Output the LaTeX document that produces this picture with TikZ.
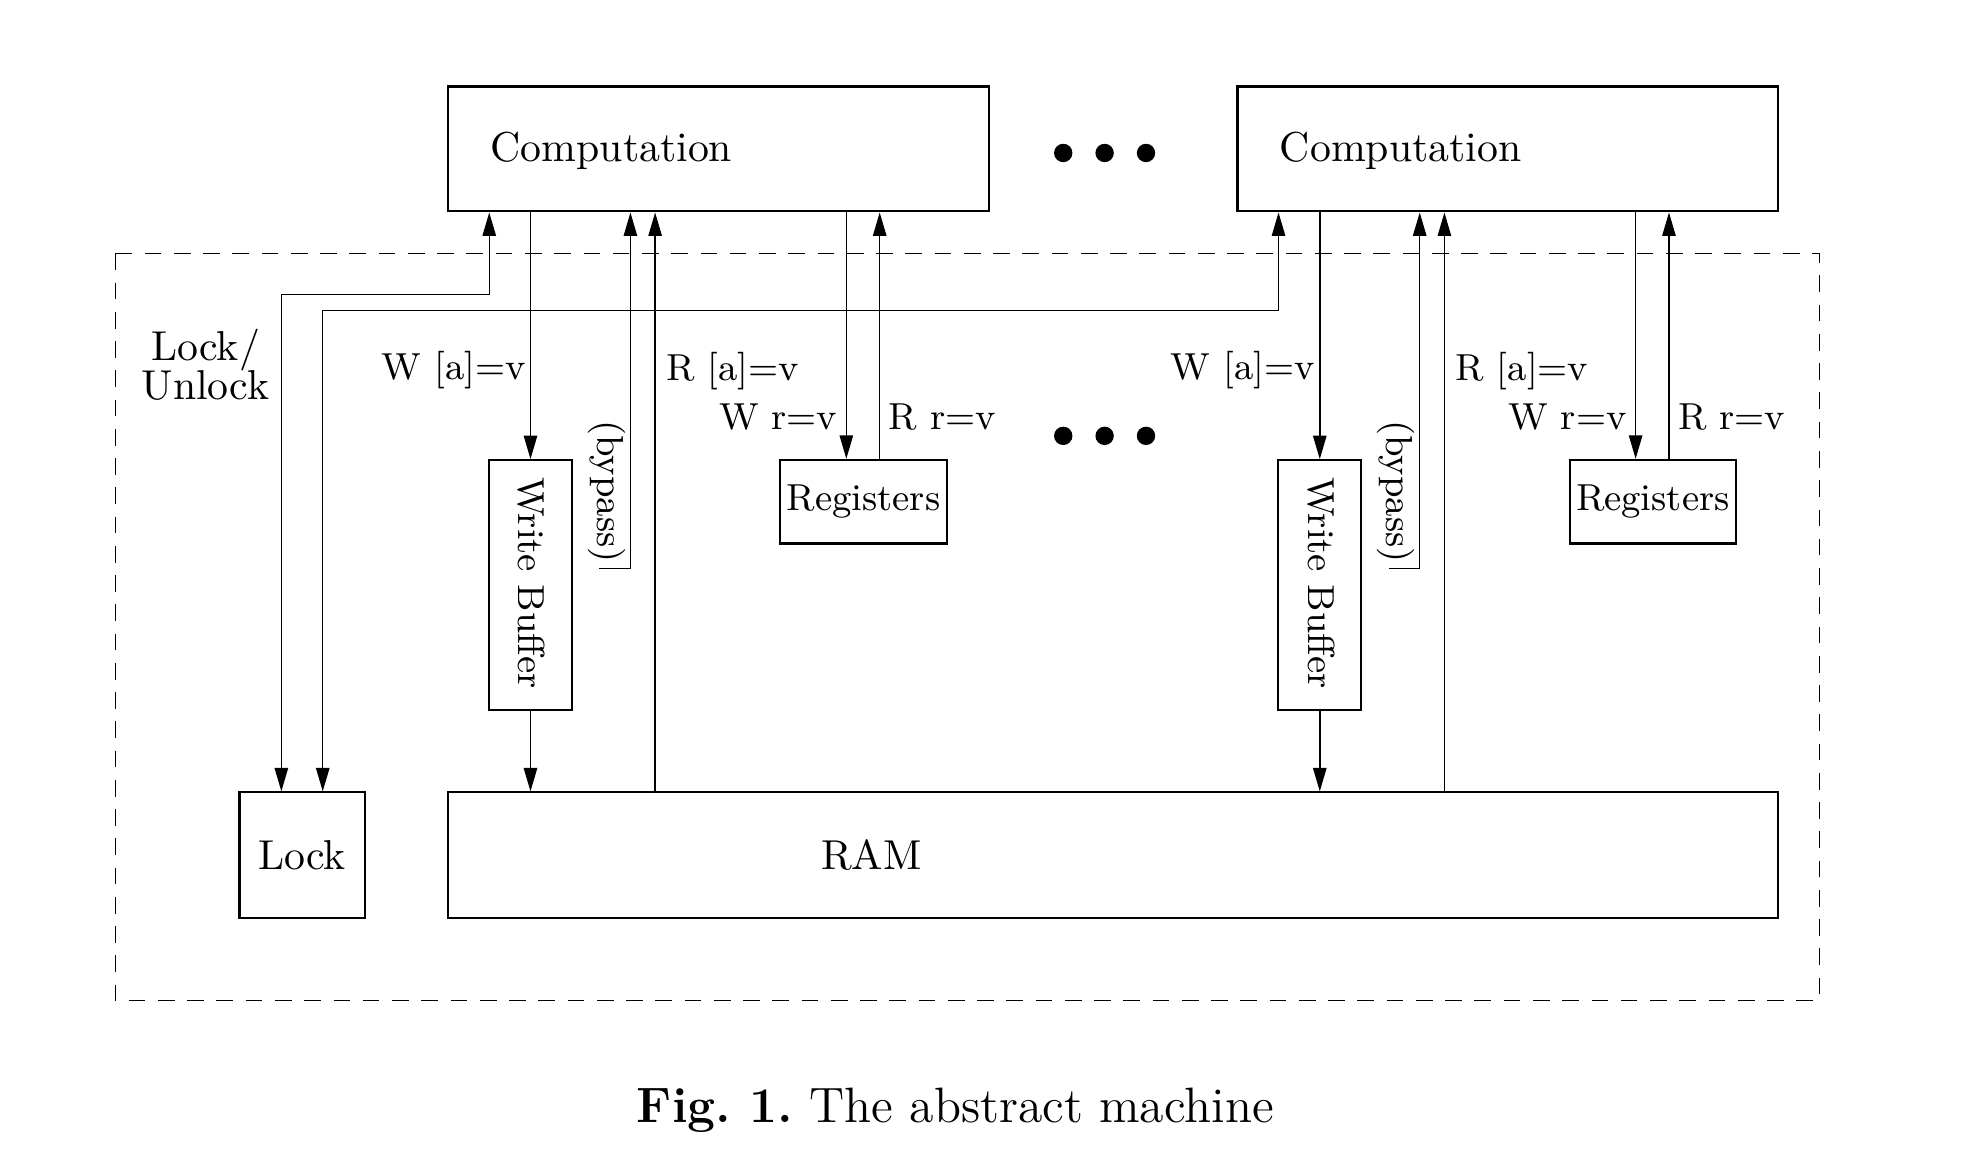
\documentclass[tikz,border=0pt]{standalone}
\usetikzlibrary{arrows.meta}
\begin{document}
\begin{tikzpicture}[x=0.3pt,y=-0.3pt,
    >={Triangle[length=5.6pt,width=3.2pt]},
    caja/.style={draw,line width=0.5pt,inner sep=0pt},
    flecha/.style={->,line width=0.35pt},
    doble/.style={<->,line width=0.35pt},
    etiq/.style={font=\small,inner sep=1pt}]
    \useasboundingbox (0,0) rectangle (1568,933);

    % Marco
    \draw[dash pattern=on 4pt off 3pt,line width=0.35pt] (92,202) rectangle (1451,798);

    % Memoria
    \node[caja,minimum width=30pt,minimum height=30pt] (lock) at (241,682) {Lock};
    \node[caja,minimum width=318.3pt,minimum height=30pt] (ram) at (887.5,682) {};
    \node (ramtxt) at (695,682) {RAM};

    % Procesadores
    \foreach \n/\dx in {1/0,2/629.5}{
        \begin{scope}[shift={(\dx,0)}]
            \node[caja,minimum width=129.3pt,minimum height=29.9pt,text width=109pt,text height=8.1pt,align=left,inner xsep=10.15pt] (comp\n) at (573,118.8) {Computation};
            \node[caja,minimum width=19.8pt,minimum height=59.7pt] (wb\n) at (423.1,466.5) {};
            \node[etiq,rotate=-90] (wbtxt\n) at (424,465) {Write Buffer};
            \node[caja,font=\small,minimum width=39.8pt,minimum height=20pt] (reg\n) at (688.7,400.1) {Registers};

            \coordinate (bp\n) at (502.8,0 |- comp\n.south);
            \coordinate (ra\n) at (522.5,0 |- comp\n.south);
            \coordinate (wr\n) at (675,0 |- comp\n.south);
            \coordinate (rr\n) at (701.6,0 |- comp\n.south);
            \coordinate (bq\n) at (478,453.3);

            \draw[flecha] (wb\n |- comp\n.south) -- (wb\n.north) node[etiq,left,pos=0.64] {W [a]=v};
            \draw[flecha] (wb\n.south) -- (wb\n |- ram.north);
            \draw[flecha] (bq\n) -| (bp\n);
            \node[etiq,rotate=-90] (byp\n) at (484,392) {(bypass)};
            \draw[flecha] (ra\n |- ram.north) -- (ra\n) node[etiq,right,pos=0.726,xshift=1.5pt] {R [a]=v};
            \draw[flecha] (wr\n) -- (wr\n |- reg\n.north) node[etiq,left,pos=0.83,xshift=-1pt] {W r=v};
            \draw[flecha] (rr\n |- reg\n.north) -- (rr\n) node[etiq,right,pos=0.17,xshift=1pt] {R r=v};
        \end{scope}
    }

    % Lock/Unlock
    \coordinate (lk1) at (390.2,0 |- comp1.south);
    \coordinate (lk2) at (1019.7,0 |- comp2.south);
    \coordinate (la) at (224.4,234.8);
    \coordinate (lb) at (257.4,247.8);
    \draw[doble] (la |- lock.north) -- (la) -| (lk1);
    \draw[doble] (lb |- lock.north) -- (lb) -| (lk2);
    \node[align=center] (lul) at (164,291) {Lock/\\[-2.6pt]Unlock};

    % Puntos suspensivos
    \foreach \x in {848,881,914}{
        \fill (\x,122) circle (2.2pt);
        \fill (\x,347.6) circle (2.2pt);
    }

    \node[anchor=base,font=\fontsize{11.9}{14}\selectfont] (cap) at (762,895.5) {\textbf{Fig.\ 1.}\ The abstract machine};
\end{tikzpicture}
\end{document}
